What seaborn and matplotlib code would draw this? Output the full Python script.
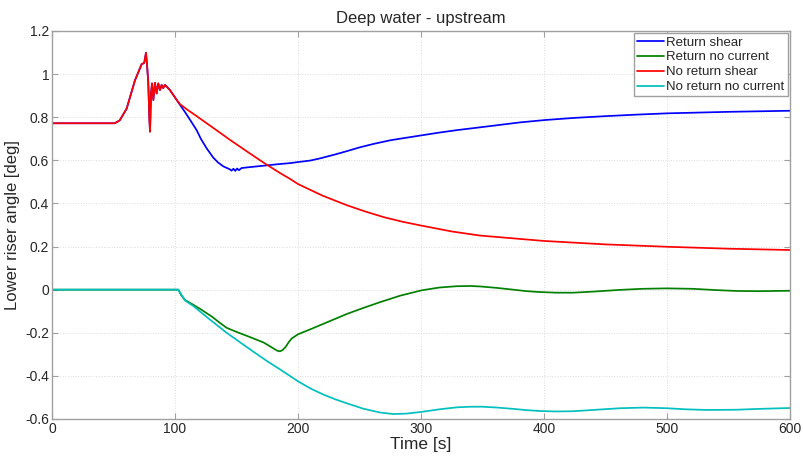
import numpy as np
import pandas as pd
import seaborn as sns
import matplotlib.pyplot as plt
from matplotlib.ticker import FuncFormatter

# Series (time [s], angle [deg])
t_ret_shear = [0, 51, 55, 60.7, 67.5, 72.9, 75, 76.4, 77.2, 78.3, 79.1, 79.7,
               80.5, 81.3, 82.4, 83.7, 85.1, 86.4, 87.8, 89.1, 90.4, 91.8,
               95.9, 101.4, 104, 108, 112, 117.6, 121, 125.8, 131.2, 135,
               139.3, 142, 144.7, 146, 147.5, 149, 150.5, 152, 154, 158.3,
               165, 171.8, 185.4, 193.5, 200, 210, 217.9, 230, 240, 250, 262,
               275, 287, 300.5, 314, 329, 355, 380.5, 400.8, 425, 450, 475,
               500, 550, 600]
v_ret_shear = [0.772, 0.772, 0.785, 0.84, 0.972, 1.046, 1.052, 1.099, 1.05,
               0.957, 0.80, 0.733, 0.91, 0.957, 0.88, 0.96, 0.91, 0.957,
               0.926, 0.95, 0.935, 0.95, 0.926, 0.88, 0.858, 0.825, 0.79,
               0.74, 0.70, 0.655, 0.612, 0.59, 0.572, 0.565, 0.558, 0.552,
               0.561, 0.551, 0.562, 0.554, 0.564, 0.567, 0.571, 0.575,
               0.583, 0.587, 0.592, 0.599, 0.609, 0.627, 0.643, 0.66, 0.677,
               0.693, 0.704, 0.716, 0.728, 0.74, 0.758, 0.776, 0.787, 0.797,
               0.805, 0.812, 0.818, 0.825, 0.83]

t_ret_nocur = [0, 102.7, 105, 108.1, 114.9, 122, 130, 136, 142, 150, 161,
               172, 179.9, 183, 185.4, 187.5, 190, 192.5, 195, 200, 210, 220,
               230, 239.6, 253, 266.7, 283, 300.5, 315, 329, 340, 348, 362,
               375, 386, 396.7, 410, 423.8, 440, 461.8, 480, 500, 521, 540,
               556.6, 575, 600]
v_ret_nocur = [0, 0, -0.025, -0.048, -0.07, -0.095, -0.125, -0.152, -0.177,
               -0.196, -0.22, -0.245, -0.272, -0.283, -0.286, -0.28, -0.265,
               -0.243, -0.226, -0.207, -0.184, -0.16, -0.136, -0.113, -0.085,
               -0.058, -0.028, -0.003, 0.01, 0.016, 0.017, 0.015, 0.008, 0.0,
               -0.007, -0.011, -0.014, -0.014, -0.009, -0.001, 0.004, 0.006,
               0.004, -0.002, -0.006, -0.007, -0.005]

t_noret_shear = [0, 51, 55, 60.7, 67.5, 72.9, 75, 76.4, 77.2, 78.3, 79.1, 79.7,
                 80.5, 81.3, 82.4, 83.7, 85.1, 86.4, 87.8, 89.1, 90.4, 91.8,
                 95.9, 101.4, 104, 110, 117.6, 125, 131.2, 144.7, 158.3,
                 171.8, 185.4, 193.5, 200, 220, 239.6, 255, 270, 285, 300.5,
                 325, 348, 375, 400, 450, 500, 550, 600]
v_noret_shear = [0.772, 0.772, 0.785, 0.84, 0.972, 1.046, 1.052, 1.099, 1.05,
                 0.957, 0.80, 0.733, 0.91, 0.957, 0.88, 0.96, 0.91, 0.957,
                 0.926, 0.95, 0.935, 0.95, 0.926, 0.88, 0.861, 0.835, 0.805,
                 0.775, 0.75, 0.695, 0.642, 0.59, 0.541, 0.514, 0.49, 0.436,
                 0.392, 0.362, 0.336, 0.315, 0.297, 0.27, 0.251, 0.238, 0.226,
                 0.21, 0.199, 0.19, 0.184]

t_noret_nocur = [0, 102.7, 105, 108.1, 114.9, 128, 142, 161, 175, 185.4, 200,
                 210, 220, 230, 239.6, 253, 266.7, 277.5, 288, 300.5, 315,
                 329, 340, 350, 362, 375, 386, 396.7, 410, 423.8, 440, 461.8,
                 480.8, 500, 515, 532, 556.6, 575, 600]
v_noret_nocur = [0, 0, -0.022, -0.05, -0.076, -0.137, -0.2, -0.277, -0.332,
                 -0.37, -0.425, -0.458, -0.485, -0.508, -0.527, -0.552, -0.57,
                 -0.577, -0.575, -0.567, -0.555, -0.546, -0.543, -0.543,
                 -0.547, -0.553, -0.559, -0.563, -0.565, -0.564, -0.558,
                 -0.55, -0.547, -0.55, -0.555, -0.558, -0.557, -0.553, -0.549]

names = ['Return shear', 'Return no current', 'No return shear',
         'No return no current']
colors = ['#0000ff', '#008000', '#ff0000', '#00bfbf']

series = [(t_ret_shear, v_ret_shear), (t_ret_nocur, v_ret_nocur),
          (t_noret_shear, v_noret_shear), (t_noret_nocur, v_noret_nocur)]
frames = []
for name, (t, v) in zip(names, series):
    frames.append(pd.DataFrame({'Time': t, 'Angle': v, 'Case': name}))
df = pd.concat(frames, ignore_index=True)

sns.set_style('white')
plt.rcParams['font.family'] = ['Liberation Sans', 'DejaVu Sans']
plt.rcParams['axes.unicode_minus'] = False

fig = plt.figure(figsize=(8.04, 4.59), dpi=100)
ax = fig.add_axes([52 / 804, 40 / 459, 738 / 804, 388 / 459])

sns.lineplot(data=df, x='Time', y='Angle', hue='Case',
             hue_order=names, palette=colors,
             estimator=None, sort=False, lw=1.25, ax=ax)

ax.set_xlim(0, 600)
ax.set_ylim(-0.6, 1.2)
ax.set_xticks(np.arange(0, 601, 100))
ax.set_yticks(np.arange(-0.6, 1.21, 0.2))
ax.yaxis.set_major_formatter(FuncFormatter(lambda v, p: f'{round(v, 1):g}'))
ax.grid(True, linestyle=':', color='#dddddd', lw=0.7)
for s in ax.spines.values():
    s.set_color('#a0a0a0')
    s.set_linewidth(1.0)
ax.tick_params(direction='in', top=True, right=True, bottom=True,
               left=True, color='#a0a0a0', length=4, labelsize=10,
               pad=2)

ax.set_xlabel('Time [s]', fontsize=12.5, labelpad=1)
ax.set_ylabel('Lower riser angle [deg]', fontsize=12, labelpad=4)
ax.set_title('Deep water - upstream', fontsize=12, pad=6)

handles, labels = ax.get_legend_handles_labels()
ax.legend(handles, labels, loc='upper right', fontsize=9.5,
          fancybox=False, edgecolor='#a0a0a0', framealpha=1,
          borderaxespad=0.15, borderpad=0.25, labelspacing=0.2,
          handlelength=2.0, handletextpad=0.2)

fig.savefig('out.png', dpi=100)
